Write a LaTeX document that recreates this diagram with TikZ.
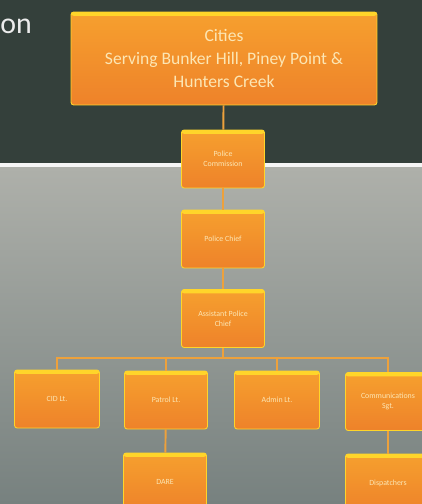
\documentclass[tikz,border=0pt]{standalone}
\usepackage{fontspec}
\setmainfont{Carlito}
\definecolor{slidedark}{HTML}{34403B}
\definecolor{slidegraytop}{HTML}{AEB0AA}
\definecolor{slidegraybot}{HTML}{77817F}
\definecolor{boxtop}{HTML}{F6A02E}
\definecolor{boxbot}{HTML}{EE822A}
\definecolor{boxedge}{HTML}{FFD52A}
\definecolor{linkcol}{HTML}{EDA13C}
\definecolor{boxtext}{HTML}{FCE6B4}
\begin{document}
\begin{tikzpicture}[x=0.02cm,y=-0.02cm,
    box/.style={rounded corners=1.5pt, draw=boxedge, line width=0.5pt,
      top color=boxtop, bottom color=boxbot, text=boxtext, align=center,
      inner sep=1pt, minimum width=1.66cm, minimum height=1.16cm,
      path picture={\fill[boxedge] (path picture bounding box.north west)
        rectangle ([yshift=-2.2pt]path picture bounding box.north east);}},
    small/.style={font=\fontsize{4.5}{5.5}\selectfont},
    link/.style={draw=linkcol, line width=1.1pt}]
  \useasboundingbox (0,0) rectangle (422,504);
  \clip (0,0) rectangle (422,504);
  % slide background
  \fill[slidedark] (0,0) rectangle (422,164);
  \shade[top color=slidegraytop, bottom color=slidegraybot] (0,167) rectangle (422,504);
  \fill[white!92!gray] (0,163) rectangle (422,167);
  \node[text=white!85!gray, anchor=west, inner sep=0pt,
    font=\fontsize{17}{20}\selectfont] (title) at (0,26) {on};
  % boxes
  \node[box, minimum width=6.12cm, minimum height=1.86cm,
    font=\fontsize{10}{13}\selectfont] (cities) at (224,58.5)
    {Cities\\Serving Bunker Hill, Piney Point \&\\Hunters Creek};
  \node[box, small] (commission) at (223,159) {Police\\Commission};
  \node[box, small] (chief) at (223,239) {Police Chief};
  \node[box, small] (assistant) at (223,318.5) {Assistant Police\\Chief};
  \node[box, small, minimum width=1.7cm] (cid) at (57,399) {CID Lt.};
  \node[box, small] (patrol) at (166,400) {Patrol Lt.};
  \node[box, small, minimum width=1.7cm] (admin) at (277,400) {Admin Lt.};
  \node[box, small, minimum width=1.7cm] (comms) at (388,401.5) {Communications\\Sgt.};
  \node[box, small] (dare) at (165,482) {DARE};
  \node[box, small, minimum width=1.7cm] (dispatch) at (388,483) {Dispatchers};
  \coordinate (bus) at (223,358);
  % connectors
  \begin{scope}
    \draw[link] (cities) -- (commission);
    \draw[link] (commission) -- (chief);
    \draw[link] (chief) -- (assistant);
    \draw[link] (assistant.south) -- (bus);
    \draw[link] (cid.north) |- (bus) -| (comms.north);
    \draw[link] (patrol.north) -- (patrol.north |- bus);
    \draw[link] (admin.north) -- (admin.north |- bus);
    \draw[link] (patrol) -- (dare);
    \draw[link] (comms) -- (dispatch);
  \end{scope}
\end{tikzpicture}
\end{document}
